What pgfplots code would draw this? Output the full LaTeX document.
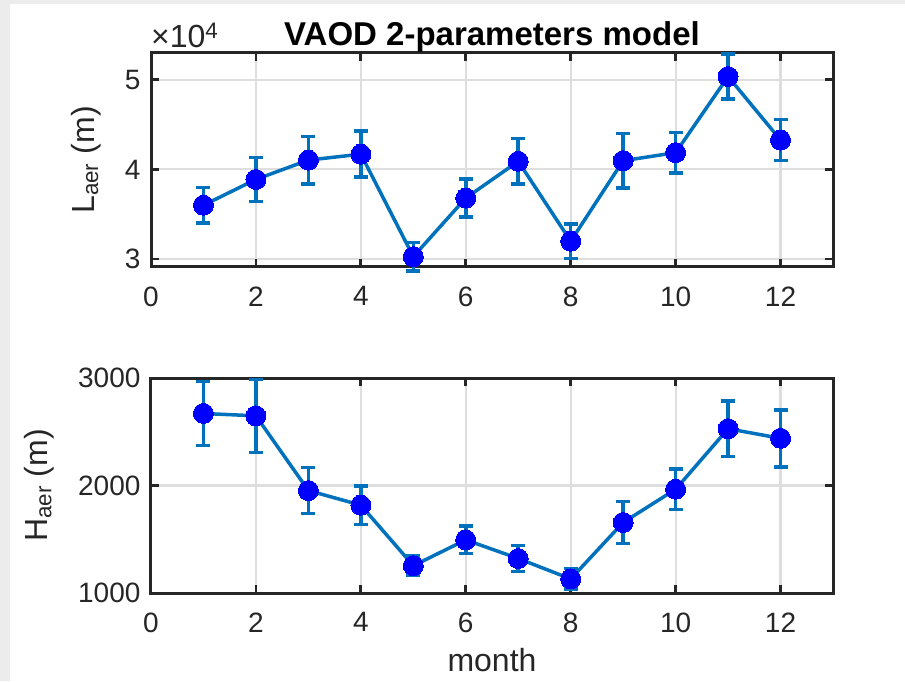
\documentclass[border=0pt]{standalone}
\usepackage{fontspec}
\setmainfont{Liberation Sans}
\usepackage{pgfplots}
\usepackage{pgfplotstable}
\pgfplotsset{compat=1.18}
\definecolor{mblue}{rgb}{0,0.447,0.741}
\definecolor{axgray}{RGB}{38,38,38}
\definecolor{gridgray}{RGB}{222,222,222}
\definecolor{bggray}{RGB}{236,236,236}

\pgfplotstableread{
x y e
1 3.600 0.200
2 3.888 0.245
3 4.104 0.265
4 4.170 0.257
5 3.026 0.160
6 3.680 0.210
7 4.090 0.255
8 3.198 0.195
9 4.097 0.305
10 4.187 0.225
11 5.037 0.250
12 4.328 0.230
}\tabL

\pgfplotstableread{
x y e
1 2670 297
2 2648 340
3 1953 215
4 1817 178
5 1254 92
6 1494 128
7 1321 122
8 1131 95
9 1656 194
10 1965 190
11 2528 259
12 2439 265
}\tabH

\pgfplotsset{
  mstyle/.style={
    scale only axis,
    width=682pt,
    xmin=0, xmax=13,
    xtick={0,2,4,6,8,10,12},
    axis line style={axgray, line width=3pt},
    tick style={axgray, line width=2.8pt},
    major tick length=8pt,
    tick align=inside,
    xtick pos=both, ytick pos=both,
    xticklabel pos=bottom, yticklabel pos=left,
    grid=major,
    major grid style={gridgray, line width=2.2pt},
    tick label style={font=\fontsize{28}{30}\selectfont, text=axgray},
    xticklabel style={yshift=-16pt},
    yticklabel style={xshift=-7pt},
    label style={font=\fontsize{32}{34}\selectfont, text=axgray},
    ylabel shift=17pt,
    xlabel shift=12pt,
    /pgf/number format/assume math mode=true,
    /pgf/number format/1000 sep={},
    clip=false,
  },
  mplot/.style={
    mblue, line width=3.5pt,
    mark=*, mark size=10pt,
    mark options={draw=blue, fill=blue, line width=0pt},
    error bars/.cd, y dir=both, y explicit,
    error bar style={mblue, line width=3.5pt},
    error mark options={rotate=90, mblue, mark size=7pt, line width=3.5pt},
  },
}

\begin{document}
\begin{tikzpicture}[x=1pt,y=1pt]
\fill[bggray] (0,0) rectangle (905,681);
\fill[white] (10,0) rectangle (905,677);

\begin{axis}[mstyle,
  at={(151pt,414pt)}, anchor=south west,
  height=214pt,
  ymin=2.91, ymax=5.30,
  ytick={3,4,5},
  ylabel={L\textsubscript{aer} (m)},
  title={\textbf{VAOD 2-parameters model}},
  title style={font=\fontsize{33}{35}\selectfont, text=black, yshift=-9pt},
]
\addplot[mplot] table[x=x, y=y, y error=e] {\tabL};
\node[anchor=south west, font=\fontsize{32}{34}\selectfont, text=axgray, inner sep=0pt, xshift=0pt, yshift=5pt] at (rel axis cs:0,1) {×10\textsuperscript{4}};
\end{axis}

\begin{axis}[mstyle,
  at={(151pt,88pt)}, anchor=south west,
  height=215pt,
  ymin=1000, ymax=3000,
  ytick={1000,2000,3000},
  ylabel={H\textsubscript{aer} (m)},
  xlabel={month},
  xlabel style={inner sep=0pt},
]
\addplot[mplot] table[x=x, y=y, y error=e] {\tabH};
\end{axis}
\end{tikzpicture}
\end{document}
